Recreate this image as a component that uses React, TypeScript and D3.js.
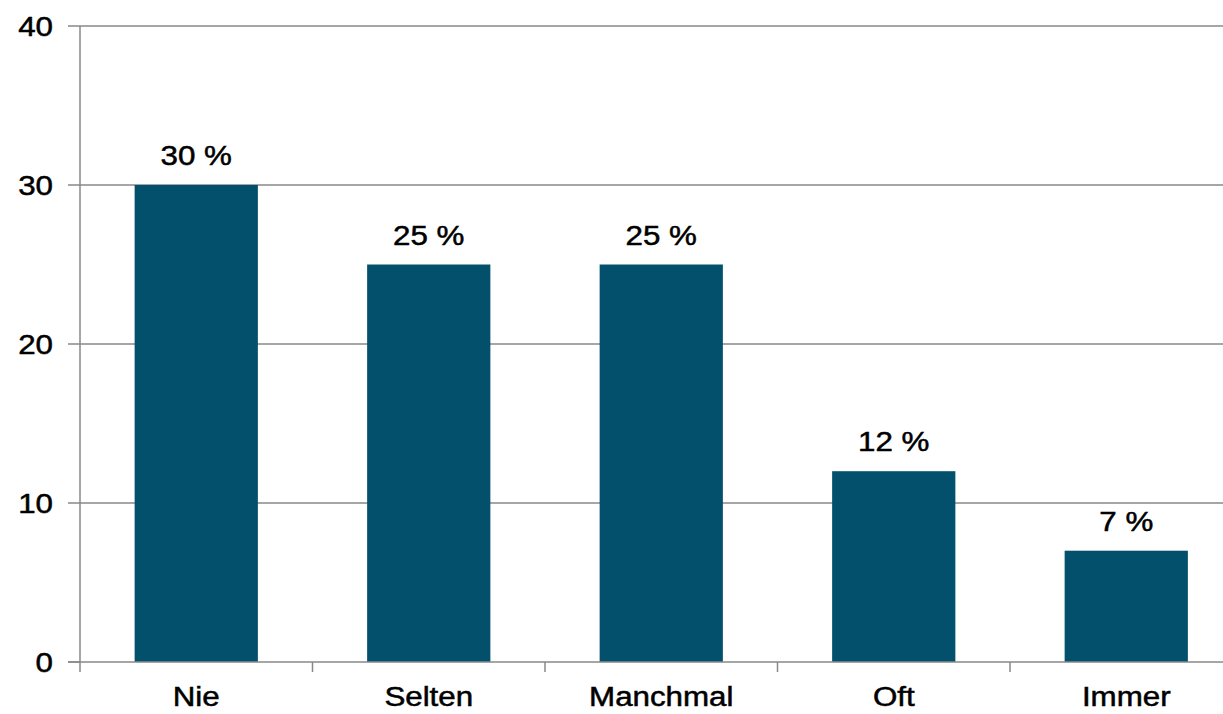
import React from "react";
import * as d3 from "d3";

const categories = ["Nie", "Selten", "Manchmal", "Oft", "Immer"];
const values = [30, 25, 25, 12, 7];
const yTicks = [0, 10, 20, 30, 40];

const W = 1223;
const H = 714;
const left = 80;
const right = 1242.5;
const top = 26;
const bottom = 662;
const barColor = "#02506b";
const gridColor = "#888888";
const font = "'Liberation Sans', Arial, sans-serif";
const fs = 27;
const sx = 1.16;

function Label({ x, y, anchor, text }: { x: number; y: number; anchor: string; text: string }) {
  return (
    <g transform={`translate(${x},${y}) scale(${sx},1)`}>
      <text x={0} y={0} textAnchor={anchor} fontFamily={font} fontSize={fs} fill="#000" stroke="#000" strokeWidth={0.5}>
        {text}
      </text>
    </g>
  );
}

export default function App() {
  const x = d3.scaleBand<string>().domain(categories).range([left, right]).paddingInner(0.47).paddingOuter(0.235);
  const y = d3.scaleLinear().domain([0, 40]).range([bottom, top]);
  const step = x.step();
  const boundaries = d3.range(categories.length + 1).map((i) => left + i * step);

  return (
    <svg width={W} height={H} style={{ position: "absolute", left: 0, top: 0, background: "#fff" }}>
      <rect x={0} y={0} width={W} height={H} fill="#fff" />
      {yTicks.map((t) => (
        <g key={t}>
          {t > 0 && <line x1={left} x2={right} y1={y(t)} y2={y(t)} stroke={gridColor} strokeWidth={1.5} />}
          <line x1={68} x2={left} y1={y(t)} y2={y(t)} stroke={gridColor} strokeWidth={1.5} />
          <Label x={53} y={y(t) + 10} anchor="end" text={String(t)} />
        </g>
      ))}
      {categories.map((c, i) => (
        <g key={c}>
          <rect x={x(c)!} y={y(values[i])} width={x.bandwidth()} height={bottom - y(values[i])} fill={barColor} />
          <Label x={x(c)! + x.bandwidth() / 2} y={y(values[i]) - 20} anchor="middle" text={`${values[i]} %`} />
          <Label x={x(c)! + x.bandwidth() / 2} y={706} anchor="middle" text={c} />
        </g>
      ))}
      <line x1={left} x2={left} y1={top} y2={bottom} stroke={gridColor} strokeWidth={1.5} />
      <line x1={68} x2={right} y1={bottom} y2={bottom} stroke={gridColor} strokeWidth={1.5} />
      {boundaries.map((b, i) => (
        <line key={i} x1={b} x2={b} y1={bottom} y2={bottom + 10} stroke={gridColor} strokeWidth={1.5} />
      ))}
    </svg>
  );
}
